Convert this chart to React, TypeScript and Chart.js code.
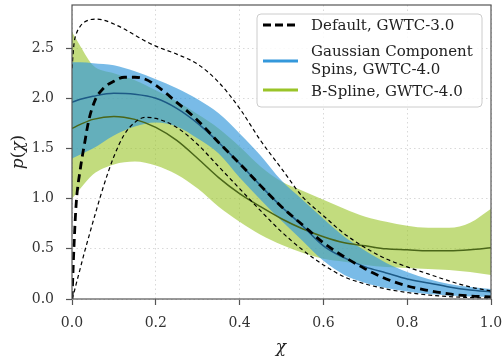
import React, { useEffect, useRef } from "react";
import { Chart, registerables } from "chart.js";
Chart.register(...registerables);

// ---- Data ----
const defaultX = [0, 0.005, 0.01, 0.02, 0.03, 0.04, 0.055, 0.075, 0.1, 0.125, 0.15, 0.175, 0.2, 0.25, 0.3, 0.35, 0.4, 0.45, 0.5, 0.55, 0.6, 0.65, 0.7, 0.75, 0.8, 0.85, 0.9, 0.95, 1.0];
const defaultMedian = [0, 0.55, 0.95, 1.3, 1.55, 1.78, 1.98, 2.1, 2.17, 2.21, 2.21, 2.19, 2.13, 1.96, 1.78, 1.56, 1.35, 1.13, 0.92, 0.74, 0.56, 0.42, 0.3, 0.2, 0.13, 0.085, 0.05, 0.03, 0.02];
const defaultUpper = [2.3, 2.55, 2.64, 2.72, 2.76, 2.78, 2.79, 2.78, 2.74, 2.69, 2.63, 2.57, 2.52, 2.44, 2.34, 2.16, 1.9, 1.58, 1.3, 1.02, 0.83, 0.65, 0.51, 0.4, 0.32, 0.25, 0.18, 0.12, 0.08];
const defaultLower = [0, 0.07, 0.15, 0.31, 0.47, 0.62, 0.84, 1.12, 1.42, 1.64, 1.76, 1.81, 1.8, 1.71, 1.54, 1.32, 1.1, 0.88, 0.67, 0.49, 0.34, 0.22, 0.15, 0.1, 0.065, 0.04, 0.024, 0.014, 0.01];

const bandX = [0, 0.02, 0.05, 0.1, 0.15, 0.2, 0.25, 0.3, 0.35, 0.4, 0.45, 0.5, 0.55, 0.6, 0.65, 0.7, 0.75, 0.8, 0.85, 0.9, 0.95, 1.0];
const gaussUpper = [2.36, 2.36, 2.35, 2.33, 2.27, 2.19, 2.1, 1.99, 1.85, 1.65, 1.43, 1.18, 0.99, 0.8, 0.62, 0.48, 0.36, 0.27, 0.2, 0.15, 0.12, 0.1];
const gaussMedian = [1.96, 1.99, 2.02, 2.05, 2.04, 2.0, 1.9, 1.75, 1.56, 1.35, 1.13, 0.92, 0.73, 0.53, 0.41, 0.32, 0.26, 0.2, 0.16, 0.12, 0.09, 0.07];
const gaussLower = [1.4, 1.44, 1.5, 1.63, 1.72, 1.76, 1.72, 1.6, 1.45, 1.21, 0.99, 0.78, 0.58, 0.38, 0.24, 0.16, 0.11, 0.075, 0.05, 0.035, 0.025, 0.02];
const splineUpper = [2.66, 2.52, 2.33, 2.25, 2.18, 2.08, 1.97, 1.84, 1.7, 1.52, 1.32, 1.17, 1.08, 0.99, 0.9, 0.82, 0.77, 0.73, 0.71, 0.71, 0.76, 0.9];
const splineMedian = [1.7, 1.74, 1.79, 1.82, 1.79, 1.71, 1.58, 1.4, 1.21, 1.05, 0.92, 0.8, 0.7, 0.62, 0.56, 0.53, 0.5, 0.49, 0.48, 0.48, 0.49, 0.51];
const splineLower = [1.0, 1.1, 1.24, 1.34, 1.37, 1.33, 1.24, 1.1, 0.92, 0.77, 0.64, 0.54, 0.46, 0.4, 0.37, 0.34, 0.32, 0.31, 0.3, 0.29, 0.27, 0.24];

const xTicks = [0, 0.2, 0.4, 0.6, 0.8, 1.0];
const yTicks = [0, 0.5, 1.0, 1.5, 2.0, 2.5];
const legendLabels = [["Default, GWTC-3.0"], ["Gaussian Component", "Spins, GWTC-4.0"], ["B-Spline, GWTC-4.0"]];
const xTitle = "χ";

const FONT = "'DejaVu Serif', serif";
const BLUE = "rgb(52,152,219)";
const BLUE_FILL = "rgba(52,152,219,0.66)";
const GREEN = "rgb(154,196,40)";
const GREEN_FILL = "rgba(154,196,40,0.6)";

export default function App() {
  const ref = useRef<HTMLCanvasElement>(null);
  useEffect(() => {
    document.body.style.margin = "0";
    const pts = (xs: number[], ys: number[]) => xs.map((x, i) => ({ x, y: ys[i] }));

    const overlay = {
      id: "overlay",
      afterDatasetsDraw(chart: any) {
        const { ctx, chartArea: a } = chart;
        ctx.save();
        ctx.strokeStyle = "#555";
        ctx.lineWidth = 1.2;
        ctx.strokeRect(a.left, a.top, a.right - a.left, a.bottom - a.top);
        ctx.restore();
      },
      afterDraw(chart: any) {
        const { ctx } = chart;
        ctx.save();
        const bx = 257, by = 14, bw = 225, bh = 93, r = 4;
        ctx.beginPath();
        ctx.moveTo(bx + r, by);
        ctx.arcTo(bx + bw, by, bx + bw, by + bh, r);
        ctx.arcTo(bx + bw, by + bh, bx, by + bh, r);
        ctx.arcTo(bx, by + bh, bx, by, r);
        ctx.arcTo(bx, by, bx + bw, by, r);
        ctx.closePath();
        ctx.fillStyle = "rgba(255,255,255,0.85)";
        ctx.fill();
        ctx.strokeStyle = "#cccccc";
        ctx.lineWidth = 1;
        ctx.stroke();

        const sx0 = 263, sx1 = 298;
        const drawSample = (y: number, color: string, dash: number[]) => {
          ctx.beginPath();
          ctx.setLineDash(dash);
          ctx.strokeStyle = color;
          ctx.lineWidth = 3;
          ctx.moveTo(sx0, y);
          ctx.lineTo(sx1, y);
          ctx.stroke();
          ctx.setLineDash([]);
        };
        drawSample(25, "#000", [8, 4]);
        drawSample(61, BLUE, []);
        drawSample(90, GREEN, []);

        ctx.fillStyle = "#222";
        ctx.font = `15px ${FONT}`;
        ctx.textBaseline = "middle";
        ctx.textAlign = "left";
        ctx.fillText(legendLabels[0][0], 311, 26);
        ctx.fillText(legendLabels[1][0], 311, 52);
        ctx.fillText(legendLabels[1][1], 311, 70);
        ctx.fillText(legendLabels[2][0], 311, 92);

        ctx.font = `italic 17px ${FONT}`;
        ctx.textAlign = "center";
        ctx.textBaseline = "alphabetic";
        ctx.fillText(xTitle, 281, 352);

        ctx.translate(23, 152);
        ctx.rotate(-Math.PI / 2);
        const parts: [string, boolean][] = [["p", true], ["(", false], ["χ", true], [")", false]];
        let total = 0;
        const widths = parts.map(([t, it]) => {
          ctx.font = `${it ? "italic " : ""}17px ${FONT}`;
          const w = ctx.measureText(t).width;
          total += w;
          return w;
        });
        let cx = -total / 2;
        ctx.textAlign = "left";
        parts.forEach(([t, it], i) => {
          ctx.font = `${it ? "italic " : ""}17px ${FONT}`;
          ctx.fillText(t, cx, 0);
          cx += widths[i];
        });
        ctx.restore();
      },
    };

    const band = (xs: number[], ys: number[], fillColor: string, target: number | false, order: number) => ({
      data: pts(xs, ys),
      borderWidth: 0,
      borderColor: "rgba(0,0,0,0)",
      backgroundColor: fillColor,
      fill: target === false ? false : { target },
      pointRadius: 0,
      cubicInterpolationMode: "monotone",
      order,
    });
    const line = (xs: number[], ys: number[], color: string, width: number, dash: number[], order: number) => ({
      data: pts(xs, ys),
      borderWidth: width,
      borderColor: color,
      borderDash: dash,
      fill: false,
      pointRadius: 0,
      cubicInterpolationMode: "monotone",
      order,
    });

    const datasets: any[] = [
      band(bandX, splineUpper, GREEN_FILL, 1, 10),
      band(bandX, splineLower, GREEN_FILL, false, 9),
      band(bandX, gaussUpper, BLUE_FILL, 3, 8),
      band(bandX, gaussLower, BLUE_FILL, false, 7),
      line(bandX, splineMedian, "#4a6619", 1.5, [], 6),
      line(bandX, gaussMedian, "#1d5a86", 1.5, [], 5),
      line(defaultX, defaultUpper, "#000", 1.2, [4, 3], 3),
      line(defaultX, defaultLower, "#000", 1.2, [4, 3], 2),
      line(defaultX, defaultMedian, "#000", 2.8, [8, 5], 1),
    ];

    const tickFont = { family: FONT, size: 14 };
    const chart = new Chart(ref.current as HTMLCanvasElement, {
      type: "line",
      data: { datasets },
      options: {
        animation: false,
        responsive: false,
        layout: { padding: { top: 5, right: 11, left: 0, bottom: 0 } },
        plugins: { legend: { display: false }, tooltip: { enabled: false } },
        scales: {
          x: {
            type: "linear",
            min: 0,
            max: 1,
            afterFit: (s: any) => { s.height = 63; s.paddingLeft = 0; s.paddingRight = 0; },
            afterBuildTicks: (s: any) => { s.ticks = xTicks.map((v) => ({ value: v })); },
            ticks: { callback: (v: any) => Number(v).toFixed(1), font: tickFont, color: "#333", padding: 10, maxRotation: 0, autoSkip: false },
            grid: { color: "#d9d9d9", lineWidth: 1, tickLength: 6, tickColor: "#555", tickWidth: 1.2, tickBorderDash: [] },
            border: { display: false, dash: [1.5, 3] },
          },
          y: {
            type: "linear",
            min: 0,
            max: 2.93,
            afterFit: (s: any) => { s.width = 72; s.paddingTop = 0; s.paddingBottom = 0; },
            afterBuildTicks: (s: any) => { s.ticks = yTicks.map((v) => ({ value: v })); },
            ticks: { callback: (v: any) => Number(v).toFixed(1), font: tickFont, color: "#333", padding: 12, autoSkip: false },
            grid: { color: "#d9d9d9", lineWidth: 1, tickLength: 6, tickColor: "#555", tickWidth: 1.2, tickBorderDash: [] },
            border: { display: false, dash: [1.5, 3] },
          },
        },
      } as any,
      plugins: [overlay],
    });
    return () => chart.destroy();
  }, []);
  return (
    <div style={{ position: "absolute", left: 0, top: 0, width: 502, height: 362 }}>
      <canvas ref={ref} width={502} height={362} />
    </div>
  );
}
